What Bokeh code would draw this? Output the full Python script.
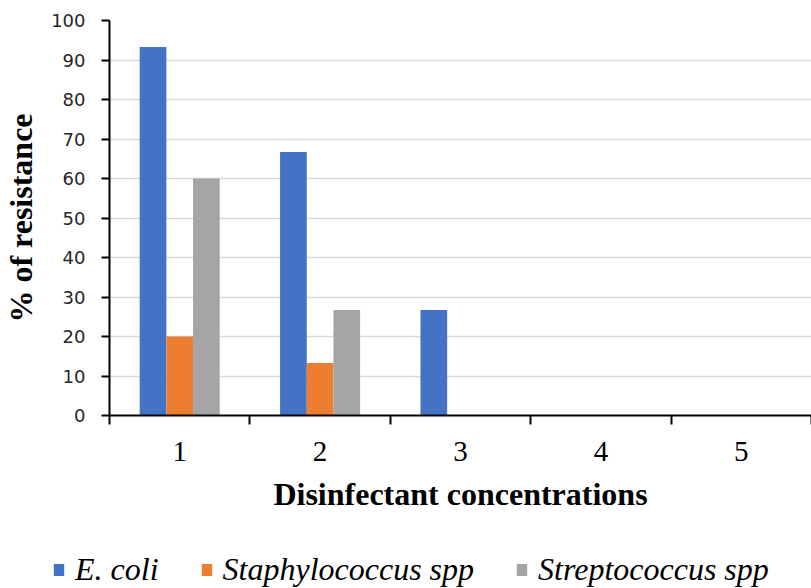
from bokeh.plotting import figure
from bokeh.models import Range1d, FixedTicker, Legend, LegendItem, ColumnDataSource
from bokeh.layouts import column, row
from bokeh.transform import dodge
from bokeh.embed import file_html
from bokeh.resources import INLINE

categories = ["1", "2", "3", "4", "5"]
positions = [1, 2, 3, 4, 5]
series_names = ["E. coli", "Staphylococcus spp", "Streptococcus spp"]
ecoli = [93.3, 66.7, 26.7, 0, 0]
staph = [20.0, 13.3, 0, 0, 0]
strep = [60.0, 26.7, 0, 0, 0]
colors = ["#4472C4", "#ED7D31", "#A5A5A5"]
y_ticks = [0, 10, 20, 30, 40, 50, 60, 70, 80, 90, 100]

src = ColumnDataSource(dict(x=positions, ecoli=ecoli, staph=staph, strep=strep))
cols = ["ecoli", "staph", "strep"]
bw = 0.19
offsets = [-bw, 0, bw]

p = figure(width=811, height=540, output_backend="svg", toolbar_location=None,
           x_range=Range1d(0.5, 5.5), y_range=Range1d(0, 100),
           min_border_left=108, min_border_right=0, min_border_top=20, min_border_bottom=125)
p.outline_line_color = None

for c, off, col in zip(cols, offsets, colors):
    p.vbar(x=dodge("x", off, range=p.x_range), top=c, width=bw, source=src, color=col, line_color=None)

# x axis
xa = p.xaxis[0]
bounds = [v - 0.5 for v in positions] + [positions[-1] + 0.5]
xa.ticker = FixedTicker(ticks=positions, minor_ticks=bounds)
xa.major_label_overrides = {pos: lab for pos, lab in zip(positions, categories)}
xa.major_tick_out = 0
xa.major_tick_in = 0
xa.minor_tick_out = 9
xa.minor_tick_in = 0
xa.minor_tick_line_color = "black"
xa.minor_tick_line_width = 2
xa.axis_line_color = "black"
xa.axis_line_width = 2
xa.major_label_text_font = "Liberation Serif"
xa.major_label_text_font_size = "29px"
xa.major_label_text_color = "black"
xa.major_label_standoff = 17
xa.axis_label = "Disinfectant concentrations"
xa.axis_label_text_font = "Liberation Serif"
xa.axis_label_text_font_style = "bold"
xa.axis_label_text_font_size = "32px"
xa.axis_label_text_color = "black"
xa.axis_label_standoff = 12

# y axis
ya = p.yaxis[0]
ya.ticker = FixedTicker(ticks=y_ticks)
ya.major_tick_out = 8
ya.major_tick_in = 0
ya.major_tick_line_width = 2
ya.minor_tick_out = 0
ya.minor_tick_in = 0
ya.axis_line_color = "black"
ya.axis_line_width = 2
ya.major_label_text_font = "DejaVu Sans"
ya.major_label_text_font_size = "18px"
ya.major_label_text_color = "#262626"
ya.major_label_standoff = 16
ya.axis_label = "% of resistance"
ya.axis_label_text_font = "Liberation Serif"
ya.axis_label_text_font_style = "bold"
ya.axis_label_text_font_size = "32px"
ya.axis_label_text_color = "black"
ya.axis_label_standoff = 9

p.xgrid.grid_line_color = None
p.ygrid.grid_line_color = "#D9D9D9"
p.ygrid.grid_line_width = 1.5
p.ygrid.ticker = FixedTicker(ticks=y_ticks)

# legend strip below the chart (bars kept out of view, only their legend swatches show)
lg = figure(width=811, height=48, output_backend="svg", toolbar_location=None,
            x_range=Range1d(-101, -100), y_range=Range1d(200, 300),
            x_axis_location=None, y_axis_location=None,
            min_border_left=0, min_border_right=0, min_border_top=0, min_border_bottom=0)
lg.grid.visible = False
lg.outline_line_color = None
items = []
for name, c, col in zip(series_names, cols, colors):
    r = lg.vbar(x="x", top=c, width=bw, source=src, color=col, line_color=None)
    items.append(LegendItem(label=name, renderers=[r]))
legend = Legend(items=items, orientation="horizontal", location=(52, 0),
                label_text_font="Liberation Serif", label_text_font_style="italic",
                label_text_font_size="32px", label_text_color="black",
                glyph_width=13, glyph_height=15, label_standoff=10, spacing=41,
                border_line_color=None, background_fill_alpha=0, padding=2, margin=0)
lg.add_layout(legend, "center")

layout = column(p, row(lg), spacing=0)
open("out.html", "w").write(file_html(layout, INLINE))
